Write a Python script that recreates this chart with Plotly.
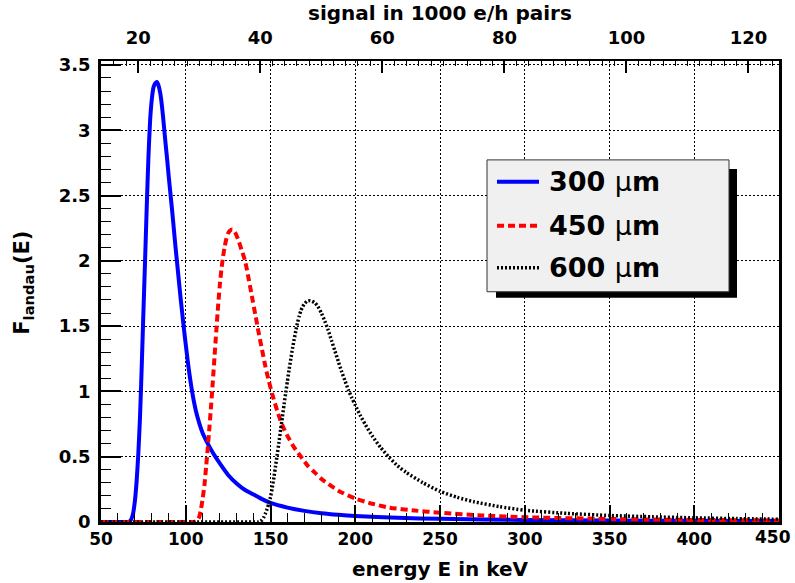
import plotly.graph_objects as go

# ---- data (F_landau vs energy in keV) ----
energy_300 = [50, 60, 66, 67, 68, 69, 70, 71, 72, 73, 74, 75, 76, 77, 78, 79, 80, 81, 82, 83,
              84, 85, 86, 87, 88, 89, 90, 91, 92, 93, 94, 95, 96, 97, 98, 99, 100, 101, 102,
              103, 104, 105, 106, 107, 108, 110, 113, 116, 120, 125, 130, 135, 140, 145, 150,
              160, 170, 180, 190, 200, 225, 250, 300, 350, 400, 450]
f_300 = [0, 0, 0, 0.005, 0.025, 0.07, 0.16, 0.31, 0.52, 0.8, 1.18, 1.6, 2.0, 2.42, 2.8, 3.08,
         3.24, 3.33, 3.36, 3.37, 3.34, 3.28, 3.18, 3.05, 2.91, 2.78, 2.64, 2.51, 2.38, 2.24,
         2.1, 1.97, 1.84, 1.71, 1.59, 1.47, 1.36, 1.25, 1.15, 1.06, 0.98, 0.91, 0.85, 0.8,
         0.755, 0.68, 0.6, 0.53, 0.45, 0.36, 0.295, 0.245, 0.21, 0.175, 0.146, 0.11, 0.085,
         0.067, 0.055, 0.046, 0.032, 0.024, 0.016, 0.012, 0.009, 0.007]

energy_450 = [50, 100, 105, 106, 107, 108, 109, 110, 111, 112, 113, 114, 115, 116, 117, 118,
              119, 120, 121, 122, 123, 124, 125, 126, 127.5, 129, 131, 133, 135, 137, 139, 141,
              143, 145, 147, 149, 151, 154, 157, 160, 164, 168, 172, 176, 180, 190, 200, 210,
              220, 235, 250, 275, 300, 350, 400, 450]
f_450 = [0, 0, 0, 0.005, 0.015, 0.04, 0.1, 0.18, 0.28, 0.42, 0.57, 0.73, 0.9, 1.08, 1.27,
         1.46, 1.64, 1.8, 1.93, 2.03, 2.11, 2.17, 2.21, 2.23, 2.24, 2.22, 2.16, 2.08, 2.0,
         1.87, 1.73, 1.59, 1.45, 1.32, 1.19, 1.08, 0.98, 0.85, 0.74, 0.66, 0.57, 0.5, 0.43,
         0.38, 0.33, 0.24, 0.18, 0.14, 0.11, 0.088, 0.071, 0.05, 0.037, 0.023, 0.016, 0.012]

energy_600 = [50, 140, 143, 144, 145, 146, 147, 148, 149, 150, 151, 152, 153, 154, 155, 156,
              157, 158, 159, 160, 161, 162, 163, 164, 165, 166, 167, 168, 169, 170, 171.5,
              173.5, 176, 178, 180, 182, 184, 186, 188, 190, 192, 194, 196, 198, 200, 203, 206,
              210, 215, 220, 225, 230, 240, 250, 260, 270, 285, 300, 325, 350, 375, 400, 425, 450]
f_600 = [0, 0, 0, 0.005, 0.015, 0.035, 0.065, 0.1, 0.14, 0.19, 0.26, 0.34, 0.43, 0.52, 0.61,
         0.71, 0.8, 0.9, 0.99, 1.08, 1.17, 1.25, 1.33, 1.4, 1.47, 1.53, 1.58, 1.62, 1.65, 1.67,
         1.69, 1.695, 1.68, 1.65, 1.6, 1.54, 1.47, 1.39, 1.31, 1.23, 1.15, 1.08, 1.01, 0.95,
         0.895, 0.815, 0.745, 0.66, 0.57, 0.495, 0.43, 0.38, 0.3, 0.235, 0.19, 0.155, 0.118,
         0.09, 0.066, 0.05, 0.04, 0.032, 0.026, 0.021]

thickness_labels = ["300", "450", "600"]
energy_ticks = [50, 100, 150, 200, 250, 300, 350, 400, 450]
signal_ticks = [20, 40, 60, 80, 100, 120]
y_ticks = [0, 0.5, 1, 1.5, 2, 2.5, 3, 3.5]
keV_per_kpair = 3.6

FONT = "DejaVu Sans, Liberation Sans, Arial, sans-serif"

# ---- geometry (pixels of the 795x583 page) ----
W, H = 795, 583
L, R, T, B = 101, 779, 61, 522.5


def px(x):
    return (x - L) / (R - L)


def py(y):
    return (B - y) / (B - T)


colors = ["#0000ff", "#ff0000", "#000000"]
dashes = ["solid", "7px,4px", "2px,2px"]
widths = [4, 4, 3.5]
series = [(energy_300, f_300), (energy_450, f_450), (energy_600, f_600)]

fig = go.Figure()
for (E, F), c, d, w in zip(series, colors, dashes, widths):
    fig.add_trace(go.Scatter(x=E, y=F, mode="lines",
                             line=dict(color=c, dash=d, width=w, shape="spline", smoothing=0.6),
                             showlegend=False, hoverinfo="skip"))

# invisible trace that carries the top (signal) axis
fig.add_trace(go.Scatter(x=signal_ticks, y=[None] * len(signal_ticks), xaxis="x2",
                         mode="lines", showlegend=False, hoverinfo="skip"))

tickfont = dict(family=FONT, size=18, color="black", weight="bold")
tickfont_bottom = dict(family=FONT, size=17, color="black", weight="bold")

# the last bottom label sits pulled in from the canvas edge (as ROOT does), so it is an annotation
bottom_text = [str(v) for v in energy_ticks[:-1]] + [""]

fig.update_layout(
    width=W, height=H,
    margin=dict(l=L, r=W - R, t=T, b=H - B, pad=0, autoexpand=False),
    paper_bgcolor="white", plot_bgcolor="white",
    font=dict(family=FONT, color="black", weight="bold"),
    showlegend=False,
    xaxis=dict(range=[energy_ticks[0], energy_ticks[-1]], tickmode="array", tickvals=energy_ticks,
               ticktext=bottom_text, ticklabeloverflow="allow",
               automargin=False,
               ticks="inside", ticklen=17, tickwidth=1.5, tickcolor="black",
               showline=True, linewidth=2.5, linecolor="black", mirror=False,
               showgrid=True, gridcolor="black", gridwidth=1, griddash="2px,2px",
               zeroline=False, tickfont=tickfont_bottom, ticklabelstandoff=0,
               minor=dict(dtick=10, tick0=50, ticks="inside", ticklen=9, tickwidth=1.2,
                          tickcolor="black", showgrid=False)),
    xaxis2=dict(overlaying="x", side="top", anchor="y",
                range=[energy_ticks[0] / keV_per_kpair, energy_ticks[-1] / keV_per_kpair],
                tickmode="array", tickvals=signal_ticks, ticktext=[str(v) for v in signal_ticks],
                ticklabeloverflow="allow", automargin=False,
                ticks="inside", ticklen=12, tickwidth=1.5, tickcolor="black",
                showline=True, linewidth=2, linecolor="black",
                showgrid=False, zeroline=False, tickfont=tickfont, ticklabelstandoff=8,
                minor=dict(dtick=2, tick0=0, ticks="inside", ticklen=5, tickwidth=1,
                           tickcolor="black", showgrid=False)),
    yaxis=dict(range=[0, 3.53], tickmode="array", tickvals=y_ticks,
               ticktext=[f"{v:g}" for v in y_ticks], ticklabeloverflow="allow",
               automargin=False,
               ticks="inside", ticklen=20, tickwidth=1.5, tickcolor="black",
               showline=True, linewidth=2.5, linecolor="black", mirror=True,
               showgrid=True, gridcolor="black", gridwidth=1, griddash="2px,2px",
               zeroline=False, tickfont=tickfont, ticklabelstandoff=4,
               minor=dict(dtick=0.1, tick0=0, ticks="inside", ticklen=10, tickwidth=1.2,
                          tickcolor="black", showgrid=False)),
)

annotations = [
    dict(text=str(energy_ticks[-1]), x=px(793), y=py(538), xref="paper", yref="paper",
         xanchor="right", yanchor="middle", showarrow=False, font=tickfont_bottom),
    dict(text="energy E in keV", x=px(440), y=py(570), xref="paper", yref="paper",
         xanchor="center", yanchor="middle", showarrow=False,
         font=dict(family=FONT, size=20, color="black", weight="bold")),
    dict(text="signal in 1000 e/h pairs", x=px(440), y=py(13), xref="paper", yref="paper",
         xanchor="center", yanchor="middle", showarrow=False,
         font=dict(family=FONT, size=20, color="black", weight="bold")),
    dict(text="F<sub>landau</sub>(E)", x=px(23), y=py(283), xref="paper", yref="paper",
         xanchor="center", yanchor="middle", showarrow=False, textangle=-90,
         font=dict(family=FONT, size=21, color="black", weight="bold")),
]

# legend box with shadow
shapes = [
    dict(type="rect", xref="paper", yref="paper", x0=px(496), x1=px(737), y0=py(298), y1=py(169),
         fillcolor="black", line=dict(width=0), layer="above"),
    dict(type="rect", xref="paper", yref="paper", x0=px(487), x1=px(729), y0=py(292), y1=py(160),
         fillcolor="#f0f0f0", line=dict(color="#333333", width=1), layer="above"),
]
rows = [182, 226, 268]
for lab, c, d, w, ry in zip(thickness_labels, colors, dashes, widths, rows):
    shapes.append(dict(type="line", xref="paper", yref="paper", x0=px(497), x1=px(539),
                       y0=py(ry), y1=py(ry), line=dict(color=c, dash=d, width=w), layer="above"))
    annotations.append(dict(text=f"{lab} <span style='font-weight:normal'>μ</span>m",
                            x=px(547), y=py(ry), xref="paper", yref="paper",
                            xanchor="left", yanchor="middle", showarrow=False,
                            font=dict(family=FONT, size=27, color="black", weight="bold")))

fig.update_layout(shapes=shapes, annotations=annotations)
fig.write_html("out.html")
